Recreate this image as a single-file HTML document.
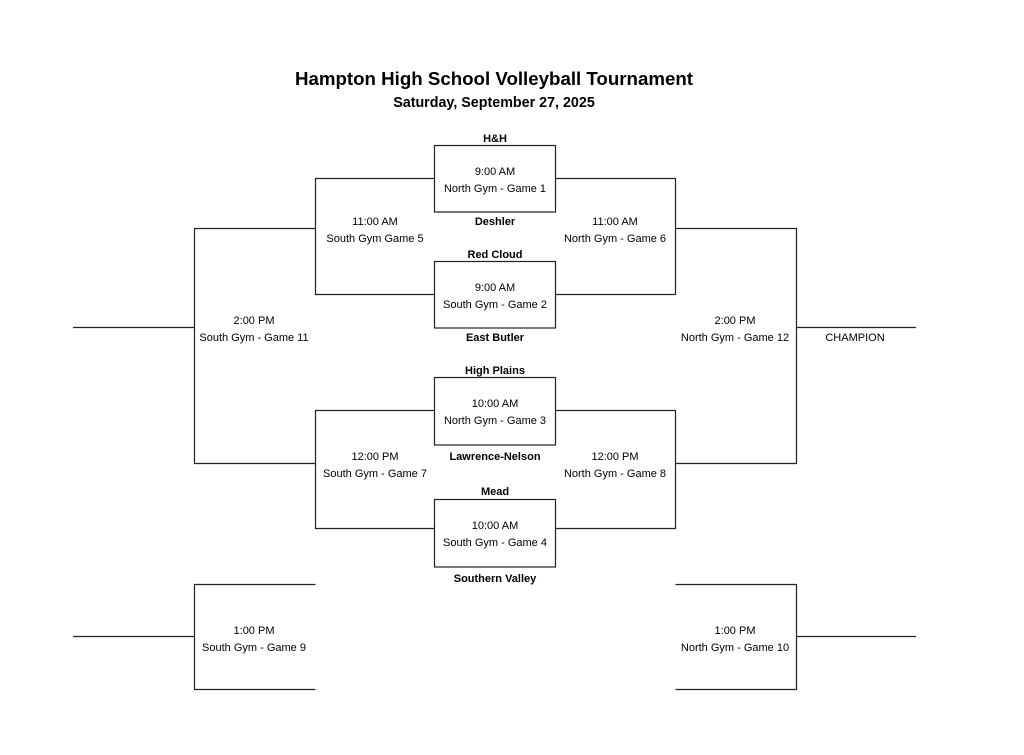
<!DOCTYPE html>
<html><head><meta charset="utf-8"><style>
html,body{margin:0;padding:0;background:#fff;}
svg{display:block;}
text{font-family:"Liberation Sans",sans-serif;font-size:11px;fill:#000;text-anchor:middle;}
.b{font-weight:bold;}
</style></head><body>
<svg width="1024" height="755" viewBox="0 0 1024 755">
<text x="494" y="85" class="b" style="font-size:18.7px">Hampton High School Volleyball Tournament</text>
<text x="494" y="107" class="b" style="font-size:14.3px">Saturday, September 27, 2025</text>
<g fill="none" stroke="#222" stroke-width="1.2">
<rect x="434.5" y="145.5" width="121" height="66.5"/>
<rect x="434.5" y="261.5" width="121" height="66.5"/>
<rect x="434.5" y="377.5" width="121" height="67.5"/>
<rect x="434.5" y="499.5" width="121" height="67.5"/>
<polyline points="434.5,178.5 315.5,178.5 315.5,294.5 434.5,294.5"/>
<polyline points="555.5,178.5 675.5,178.5 675.5,294.5 555.5,294.5"/>
<polyline points="315.5,228.5 194.5,228.5 194.5,463.5 315.5,463.5"/>
<polyline points="434.5,410.5 315.5,410.5 315.5,528.5 434.5,528.5"/>
<polyline points="555.5,410.5 675.5,410.5 675.5,528.5 555.5,528.5"/>
<polyline points="675.5,228.5 796.5,228.5 796.5,463.5 675.5,463.5"/>
<line x1="73" y1="327.5" x2="194.5" y2="327.5"/>
<line x1="796.5" y1="327.5" x2="916" y2="327.5"/>
<polyline points="315.5,584.5 194.5,584.5 194.5,689.5 315.5,689.5"/>
<polyline points="675.5,584.5 796.5,584.5 796.5,689.5 675.5,689.5"/>
<line x1="73" y1="636.5" x2="194.5" y2="636.5"/>
<line x1="796.5" y1="636.5" x2="916" y2="636.5"/>
</g>
<text x="495" y="142" class="b">H&amp;H</text>
<text x="495" y="175">9:00 AM</text><text x="495" y="192">North Gym - Game 1</text>
<text x="495" y="225" class="b">Deshler</text>
<text x="495" y="258" class="b">Red Cloud</text>
<text x="495" y="291">9:00 AM</text><text x="495" y="308">South Gym - Game 2</text>
<text x="495" y="341" class="b">East Butler</text>
<text x="495" y="374" class="b">High Plains</text>
<text x="495" y="407">10:00 AM</text><text x="495" y="424">North Gym - Game 3</text>
<text x="495" y="460" class="b">Lawrence-Nelson</text>
<text x="495" y="495" class="b">Mead</text>
<text x="495" y="529">10:00 AM</text><text x="495" y="546">South Gym - Game 4</text>
<text x="495" y="582" class="b">Southern Valley</text>
<text x="375" y="225">11:00 AM</text><text x="375" y="242">South Gym Game 5</text>
<text x="615" y="225">11:00 AM</text><text x="615" y="242">North Gym - Game 6</text>
<text x="254" y="324">2:00 PM</text><text x="254" y="341">South Gym - Game 11</text>
<text x="735" y="324">2:00 PM</text><text x="735" y="341">North Gym - Game 12</text>
<text x="855" y="341">CHAMPION</text>
<text x="375" y="460">12:00 PM</text><text x="375" y="477">South Gym - Game 7</text>
<text x="615" y="460">12:00 PM</text><text x="615" y="477">North Gym - Game 8</text>
<text x="254" y="634">1:00 PM</text><text x="254" y="651">South Gym - Game 9</text>
<text x="735" y="634">1:00 PM</text><text x="735" y="651">North Gym - Game 10</text>
</svg>
</body></html>
